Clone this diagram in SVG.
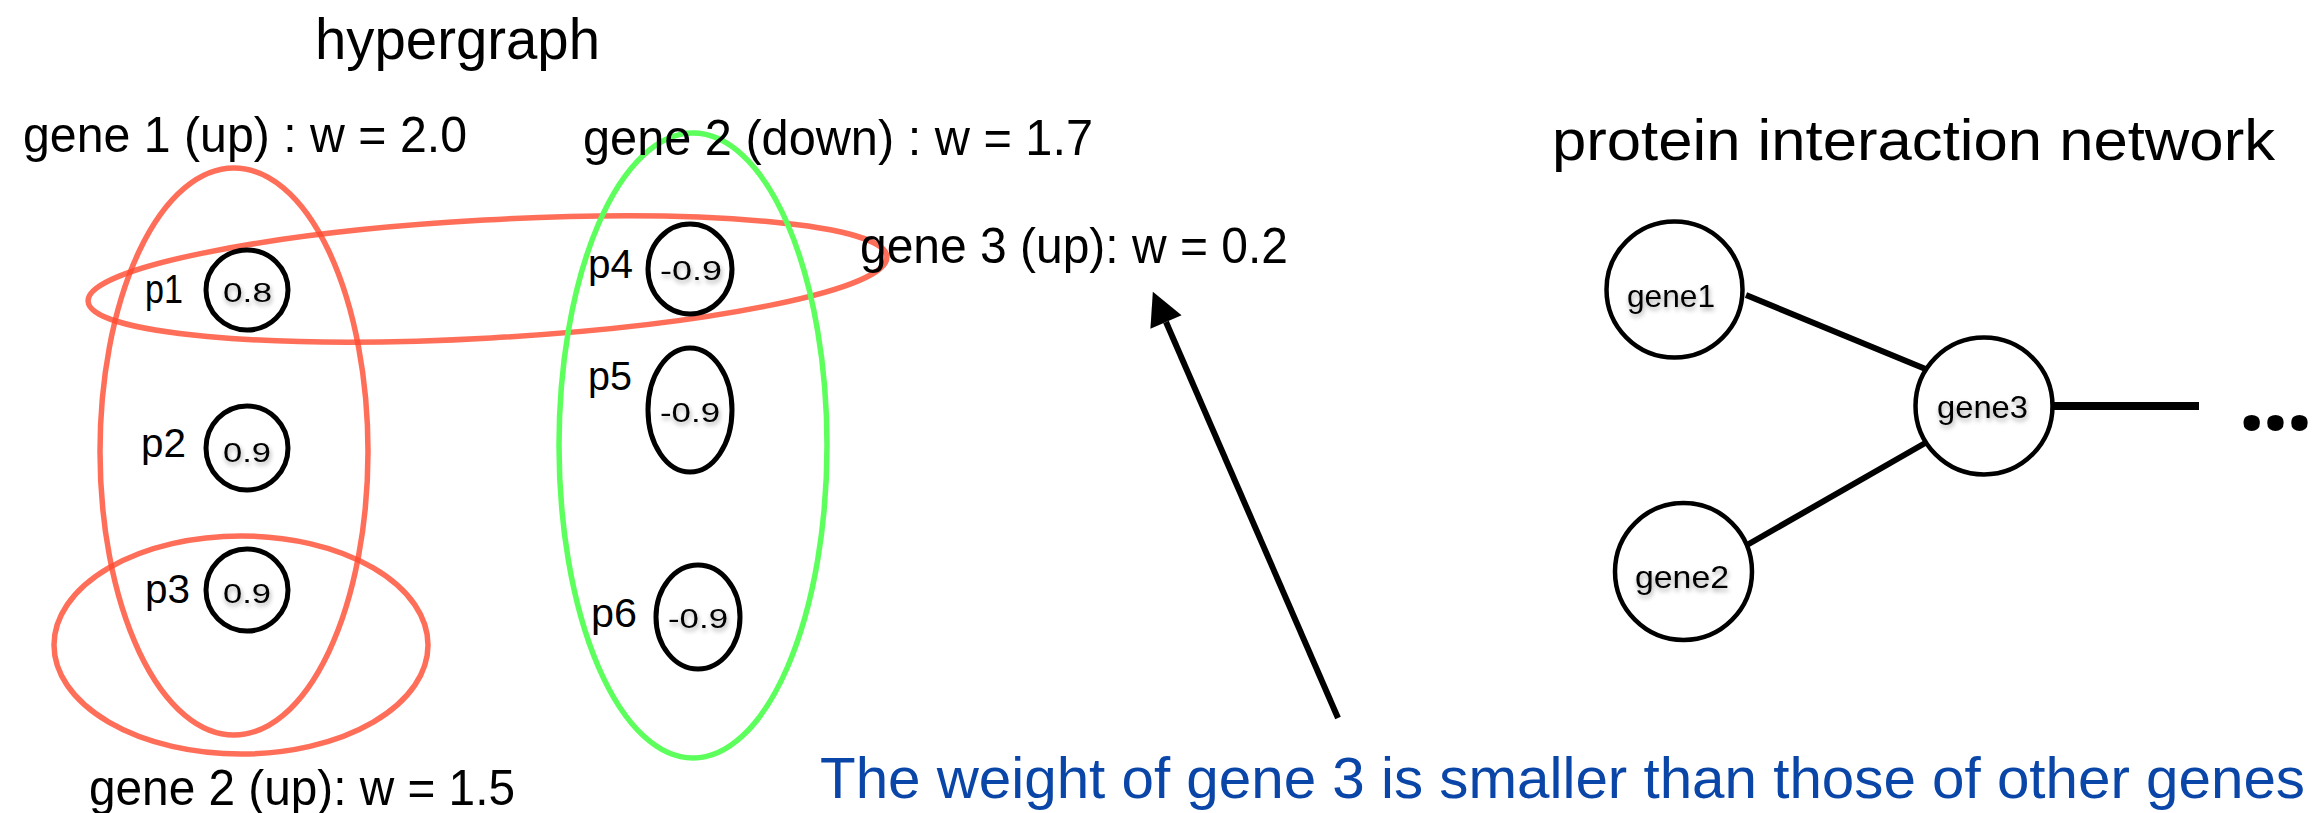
<svg xmlns="http://www.w3.org/2000/svg" width="2324" height="813" viewBox="0 0 2324 813">
  <defs>
    <style>
      text { font-family: "Liberation Sans", Arial, sans-serif; fill: #000; }
      .title { font-size: 57px; }
      .label { font-size: 50px; }
      .plabel { font-size: 40px; }
      .val { font-size: 28px; }
      .gname { font-size: 32px; }
      .blue { font-size: 57px; fill: #0A45A8; }
      .dots { font-family: "Open Sans", "Noto Sans", sans-serif; font-size: 96px; font-weight: bold; }
      .red { fill: none; stroke: #FF4A30; stroke-opacity: 0.8; stroke-width: 5.5; }
      .green { fill: none; stroke: #5DFF5D; stroke-width: 5.5; }
      .pc { fill: #fff; stroke: #000; stroke-width: 5; }
      .nc { fill: #fff; stroke: #000; stroke-width: 4.5; }
      .edge { stroke: #000; stroke-width: 6; fill: none; }
    </style>
    <filter id="sh" x="-30%" y="-50%" width="160%" height="200%">
      <feGaussianBlur in="SourceAlpha" stdDeviation="2.5"/>
      <feOffset dx="1" dy="3"/>
      <feComponentTransfer><feFuncA type="linear" slope="0.35"/></feComponentTransfer>
      <feMerge><feMergeNode/><feMergeNode in="SourceGraphic"/></feMerge>
    </filter>
    <marker id="ah" markerUnits="userSpaceOnUse" markerWidth="40" markerHeight="40" refX="0" refY="0" viewBox="-2 -20 40 40" orient="auto">
      <path d="M0,-17 L33,0 L0,17 z" fill="#000"/>
    </marker>
  </defs>

  <rect width="2324" height="813" fill="#fff"/>

  <!-- titles -->
  <text class="title" x="315" y="59" textLength="285" lengthAdjust="spacingAndGlyphs">hypergraph</text>
  <text class="title" x="1552" y="160" textLength="723" lengthAdjust="spacingAndGlyphs">protein interaction network</text>

  <!-- hyperedges -->
  <g id="hyperedge-gene1">
    <ellipse class="red" cx="234" cy="451.5" rx="134" ry="283.5"/>
    <text class="label" x="23" y="152" textLength="444" lengthAdjust="spacingAndGlyphs">gene 1 (up) : w = 2.0</text>
  </g>
  <g id="hyperedge-gene3">
    <ellipse class="red" cx="487.5" cy="279" rx="400" ry="59" transform="rotate(-3.2 487.5 279)"/>
    <text class="label" x="860" y="263" textLength="428" lengthAdjust="spacingAndGlyphs">gene 3 (up): w = 0.2</text>
  </g>
  <g id="hyperedge-gene2up">
    <ellipse class="red" cx="241" cy="645" rx="187" ry="109"/>
    <text class="label" x="89" y="805" textLength="426" lengthAdjust="spacingAndGlyphs">gene 2 (up): w = 1.5</text>
  </g>
  <g id="hyperedge-gene2down">
    <ellipse class="green" cx="693" cy="445.5" rx="134" ry="312.5"/>
    <text class="label" x="583" y="155" textLength="510" lengthAdjust="spacingAndGlyphs">gene 2 (down) : w = 1.7</text>
  </g>

  <!-- protein nodes -->
  <g id="p1">
    <ellipse class="pc" cx="247" cy="290" rx="41" ry="40"/>
    <text class="plabel" x="145" y="303" textLength="38" lengthAdjust="spacingAndGlyphs">p1</text>
    <text class="val" x="223" y="302" textLength="49" lengthAdjust="spacingAndGlyphs" filter="url(#sh)">0.8</text>
  </g>
  <g id="p2">
    <ellipse class="pc" cx="247" cy="448" rx="41" ry="42"/>
    <text class="plabel" x="141" y="457" textLength="45" lengthAdjust="spacingAndGlyphs">p2</text>
    <text class="val" x="223" y="462" textLength="48" lengthAdjust="spacingAndGlyphs" filter="url(#sh)">0.9</text>
  </g>
  <g id="p3">
    <ellipse class="pc" cx="247" cy="590" rx="41" ry="41"/>
    <text class="plabel" x="145" y="603" textLength="45" lengthAdjust="spacingAndGlyphs">p3</text>
    <text class="val" x="223" y="603" textLength="48" lengthAdjust="spacingAndGlyphs" filter="url(#sh)">0.9</text>
  </g>
  <g id="p4">
    <ellipse class="pc" cx="690" cy="269" rx="42" ry="45"/>
    <text class="plabel" x="588" y="278" textLength="45" lengthAdjust="spacingAndGlyphs">p4</text>
    <text class="val" x="660" y="280" textLength="62" lengthAdjust="spacingAndGlyphs" filter="url(#sh)">-0.9</text>
  </g>
  <g id="p5">
    <ellipse class="pc" cx="690" cy="410" rx="42" ry="62"/>
    <text class="plabel" x="588" y="390" textLength="44" lengthAdjust="spacingAndGlyphs">p5</text>
    <text class="val" x="660" y="422" textLength="60" lengthAdjust="spacingAndGlyphs" filter="url(#sh)">-0.9</text>
  </g>
  <g id="p6">
    <ellipse class="pc" cx="698" cy="617" rx="42" ry="52"/>
    <text class="plabel" x="591" y="627" textLength="46" lengthAdjust="spacingAndGlyphs">p6</text>
    <text class="val" x="668" y="628" textLength="60" lengthAdjust="spacingAndGlyphs" filter="url(#sh)">-0.9</text>
  </g>

  <!-- connectors -->
  <g id="connectors">
    <line class="edge" x1="1746" y1="295" x2="1928" y2="370"/>
    <line class="edge" x1="1747" y1="545" x2="1927" y2="442"/>
    <line class="edge" x1="2053" y1="406" x2="2199" y2="406" style="stroke-width:8"/>
    <line class="edge" x1="1338" y1="718" x2="1166" y2="322" marker-end="url(#ah)"/>
  </g>

  <!-- network nodes -->
  <g id="gene1">
    <circle class="nc" cx="1674.5" cy="289.5" r="68"/>
    <text class="gname" x="1627" y="307" textLength="88" lengthAdjust="spacingAndGlyphs" filter="url(#sh)">gene1</text>
  </g>
  <g id="gene3">
    <circle class="nc" cx="1984" cy="406" r="68.5"/>
    <text class="gname" x="1937" y="418" textLength="91" lengthAdjust="spacingAndGlyphs" filter="url(#sh)">gene3</text>
  </g>
  <g id="gene2">
    <circle class="nc" cx="1683.5" cy="571.5" r="68.5"/>
    <text class="gname" x="1635" y="588" textLength="94" lengthAdjust="spacingAndGlyphs" filter="url(#sh)">gene2</text>
  </g>
  <text class="dots" x="2238" y="430" textLength="75" lengthAdjust="spacing">...</text>

  <!-- annotation -->
  <text class="blue" x="820" y="798" textLength="1485" lengthAdjust="spacingAndGlyphs">The weight of gene 3 is smaller than those of other genes</text>
</svg>
